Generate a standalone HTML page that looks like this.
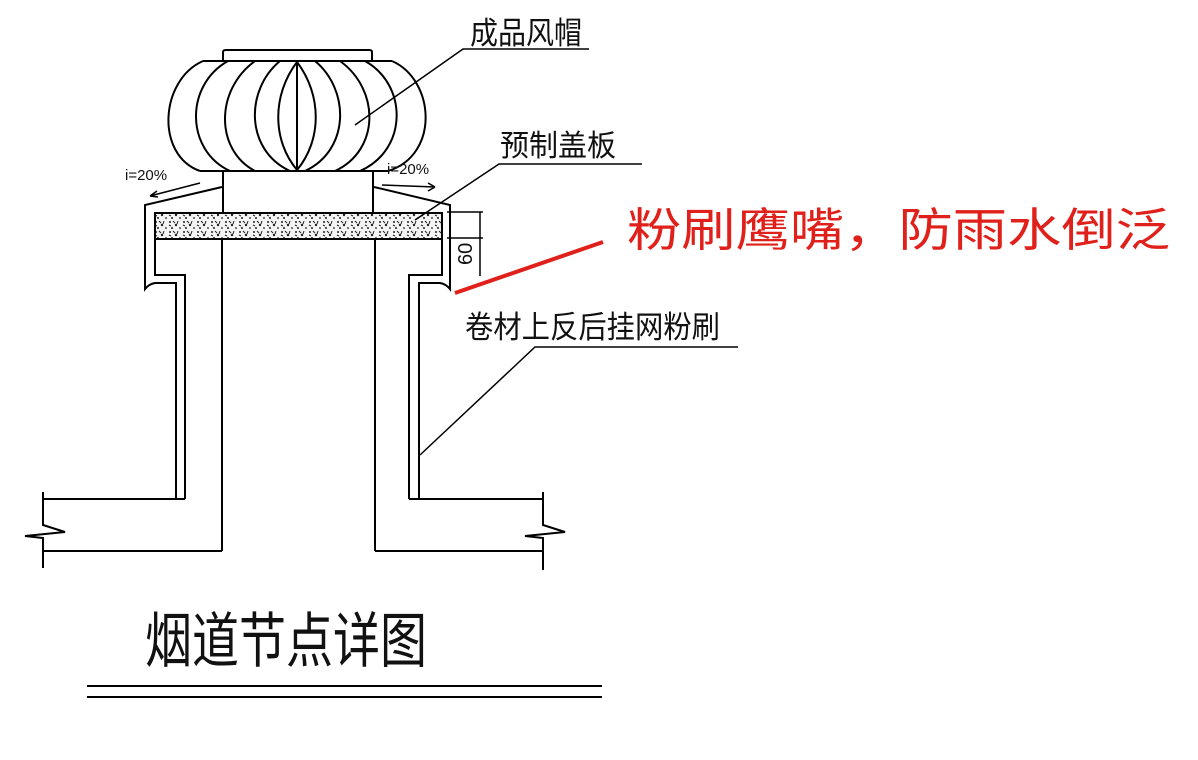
<!DOCTYPE html>
<html><head><meta charset="utf-8"><style>
html,body{margin:0;padding:0;background:#fff;}
body{width:1198px;height:760px;overflow:hidden;position:relative;}
svg{position:absolute;left:0;top:0;}
.t{font-family:"Liberation Sans","Noto Sans CJK SC",sans-serif;fill:#111;}
</style></head><body>
<svg width="1198" height="760" viewBox="0 0 1198 760">
<defs>
<pattern id="sp" width="14" height="10" patternUnits="userSpaceOnUse">
<rect width="14" height="10" fill="#f4f4f4"/>
<circle cx="2" cy="2" r="1" fill="#222"/><circle cx="8" cy="5" r="1.2" fill="#222"/>
<circle cx="12" cy="8" r="0.9" fill="#222"/><circle cx="4" cy="8" r="1" fill="#222"/>
<path d="M5 1 l2 2 M10 1 l-1 3 M1 5 l2 1" stroke="#222" stroke-width="1"/>
</pattern>
</defs>
<g fill="none" stroke="#000" stroke-width="2">
<!-- cap -->
<path d="M223 61 V52 Q223 50 226 50 H369 Q372 50 372 52 V61"/>
<line x1="203" y1="61" x2="392" y2="61"/>
<line x1="200" y1="171" x2="388" y2="171"/>
<path d="M203 61 C160 80 155 155 200 171"/>
<path d="M392 61 C435 80 440 155 388 171"/>
<path d="M228 61 C185 85 185 150 230 171"/>
<path d="M365 61 C408 85 408 150 360 171"/>
<path d="M255 61 C215 90 215 150 255 171"/>
<path d="M340 61 C380 90 380 150 335 171"/>
<path d="M280 61 C245 90 245 150 290 171"/>
<path d="M315 61 C350 90 350 150 305 171"/>
<path d="M297 62 C272 95 272 140 297 170"/>
<path d="M297 62 C322 95 322 140 297 170"/>
<line x1="297" y1="61" x2="297" y2="171"/>
<!-- neck -->
<line x1="223" y1="171" x2="223" y2="213"/>
<line x1="373" y1="171" x2="373" y2="213"/>
<!-- slab -->
<rect x="155" y="213" width="287" height="26" fill="url(#sp)"/>
<!-- left parapet -->
<path d="M222 187 L145 205 V289 Q149 284 155 283 H176 V499"/>
<path d="M155 239 V275 H185 V499"/>
<line x1="222" y1="239" x2="222" y2="551"/>
<!-- right parapet -->
<path d="M374 187 L450 205 V289 Q446 284 440 283 H419 V499"/>
<path d="M442 239 V275 H409 V499"/>
<line x1="375" y1="239" x2="375" y2="551"/>
<!-- floor slabs -->
<path d="M43 499 H185 M43 551 H222"/>
<path d="M43 492 V525 L65 532 L25 536 L43 538 V568"/>
<path d="M409 499 H543 M375 551 H543"/>
<path d="M543 492 V525 L565 532 L525 536 L543 538 V570"/>
</g>
<g stroke="#000" stroke-width="1.5" fill="none">
<!-- leaders -->
<path d="M589 49 H463 L355 125"/>
<path d="M642 164 H499 L415 220"/>
<path d="M738 347 H535 L420 455"/>
<!-- dimension -->
<path d="M447 212 H483 M447 238 H483 M480 212 V276"/>
<!-- slope arrows -->
<path d="M200 183 L150 196 M150 196 l7 -5 M150 196 l8 1"/>
<path d="M382 185 L435 187 M435 187 l-7 -4 M435 187 l-7 4"/>
</g>
<text class="t" x="125" y="180" font-size="15">i=20%</text>
<text class="t" x="387" y="174" font-size="15">i=20%</text>
<text class="t" transform="translate(472,265) rotate(-90)" font-size="20">60</text>
<text class="t" x="470" y="44" font-size="31" textLength="112" lengthAdjust="spacingAndGlyphs">成品风帽</text>
<text class="t" x="500" y="156" font-size="30" textLength="116" lengthAdjust="spacingAndGlyphs">预制盖板</text>
<text class="t" x="465" y="338" font-size="31" textLength="255" lengthAdjust="spacingAndGlyphs">卷材上反后挂网粉刷</text>
<text class="t" x="145" y="662" font-size="60" textLength="282" lengthAdjust="spacingAndGlyphs">烟道节点详图</text>
<g stroke="#000" stroke-width="2"><line x1="87" y1="686" x2="602" y2="686"/><line x1="87" y1="697" x2="602" y2="697"/></g>
<line x1="455" y1="293" x2="603" y2="242" stroke="#e0201a" stroke-width="4"/>
<text x="627" y="246" font-family="'Liberation Sans','Noto Sans CJK SC',sans-serif" font-size="46" fill="#e0201a" textLength="543" lengthAdjust="spacingAndGlyphs">粉刷鹰嘴，防雨水倒泛</text>
</svg>
</body></html>
